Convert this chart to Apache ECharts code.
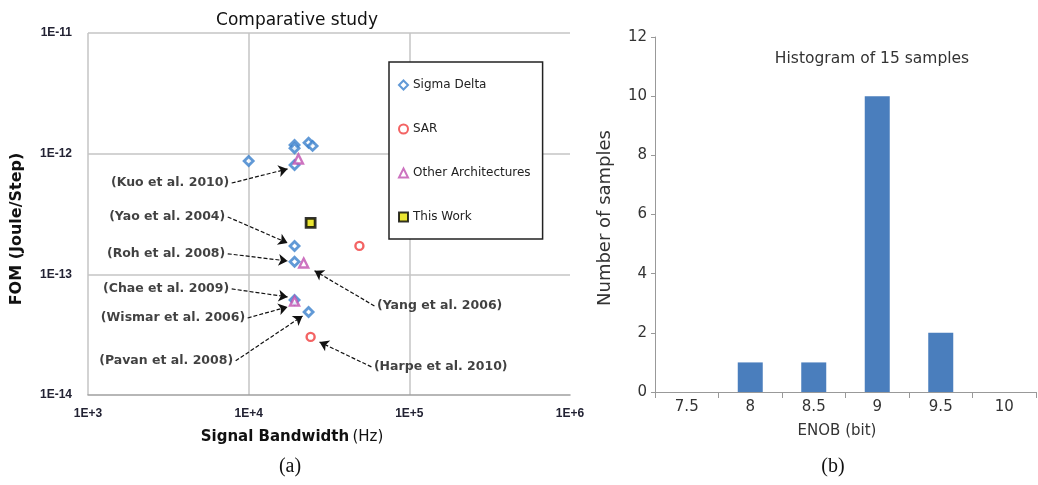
<!DOCTYPE html>
<html>
<head>
<meta charset="utf-8">
<script src="https://cdn.jsdelivr.net/npm/echarts@6/dist/echarts.min.js"></script>
<style>
html,body{margin:0;padding:0;background:#fff;}
#chart{width:1038px;height:485px;}
</style>
</head>
<body>
<div id="chart"></div>
<script>
// ---------- Panel (a): comparative study (log-log) ----------
const sigmaDelta = [[10000,8.7e-13],[19300,1.18e-12],[19300,1.11e-12],[23600,1.23e-12],[25000,1.16e-12],[19300,8.06e-13],[19300,1.72e-13],[19300,1.27e-13],[19300,6.14e-14],[23600,4.88e-14]];
const sar = [[48900,1.72e-13],[24300,3.03e-14]];
const otherArch = [[20400,9.04e-13],[22000,1.24e-13],[19300,6.0e-14]];
const thisWork = [[24300,2.67e-13]];

const annotNames = ['(Kuo et al. 2010)','(Yao et al. 2004)','(Roh et al. 2008)','(Chae et al. 2009)','(Wismar et al. 2006)','(Pavan et al. 2008)','(Yang et al. 2006)','(Harpe et al. 2010)'];
const annotFrom = [[7840,5.71e-13],[7410,2.99e-13],[7410,1.48e-13],[7840,7.57e-14],[9860,4.35e-14],[8300,1.92e-14],[60650,5.47e-14],[58070,1.71e-14]];
const annotTo = [[17460,7.47e-13],[17460,1.82e-13],[17460,1.29e-13],[17460,6.5e-14],[17460,5.37e-14],[21640,4.52e-14],[25700,1.07e-13],[27610,2.75e-14]];
const annotSide = ['left','left','left','left','left','left','right','right'];

// ---------- Panel (b): histogram ----------
const enobCategories = ['7.5','8','8.5','9','9.5','10'];
const enobCounts = [0,1,1,10,2,0];

const chart = echarts.init(document.getElementById('chart'), null, {renderer:'canvas'});

const font = 'Liberation Sans, Arial, sans-serif';
const wide = 'DejaVu Sans, Verdana, sans-serif';
const blue = '#3a7fcc', red = '#f03c3c', pink = '#c050b0';

const annotData = annotNames.map((n,i)=>({
  name:n,
  value:annotFrom[i],
  label:{position:annotSide[i], distance:2}
}));
const arrowData = annotFrom.map((f,i)=>[{coord:f},{coord:annotTo[i]}]);

const option = {
  animation:false,
  backgroundColor:'#fff',
  title:[
    {text:'Comparative study', left:292, top:7, textAlign:'center',
     textStyle:{fontFamily:wide, fontSize:17, fontWeight:'normal', color:'#111'}},
    {text:'Histogram of 15 samples', left:867, top:46, textAlign:'center',
     textStyle:{fontFamily:wide, fontSize:15.5, fontWeight:'normal', color:'#333'}},
    {text:'(a)', left:285, top:452, textAlign:'center',
     textStyle:{fontFamily:'Liberation Serif, DejaVu Serif, serif', fontSize:20, fontWeight:'normal', color:'#111'}},
    {text:'(b)', left:828, top:452, textAlign:'center',
     textStyle:{fontFamily:'Liberation Serif, DejaVu Serif, serif', fontSize:20, fontWeight:'normal', color:'#111'}}
  ],
  graphic:[
    {type:'text', x:17, y:229, rotation:Math.PI/2,
     style:{text:'FOM (Joule/Step)', fontFamily:wide, fontSize:16, fontWeight:'bold', fill:'#111',
            align:'center', verticalAlign:'middle'}},
    {type:'text', x:292, y:437,
     style:{text:'{b|Signal Bandwidth} {n|(Hz)}', align:'center', verticalAlign:'middle',
            rich:{b:{fontFamily:wide, fontSize:15, fontWeight:'bold', fill:'#111'},
                  n:{fontFamily:wide, fontSize:15, fontWeight:'normal', fill:'#111'}}}},
    {type:'text', x:605, y:218, rotation:Math.PI/2,
     style:{text:'Number of samples', fontFamily:wide, fontSize:18, fill:'#333',
            align:'center', verticalAlign:'middle'}},
    {type:'text', x:837, y:431,
     style:{text:'ENOB (bit)', fontFamily:wide, fontSize:15, fill:'#333',
            align:'center', verticalAlign:'middle'}}
  ],
  legend:{
    show:true,
    data:['Sigma Delta','SAR','Other Architectures','This Work'],
    orient:'vertical',
    left:389, top:62,
    padding:[17,12,16,9],
    itemGap:32,
    itemWidth:9, itemHeight:9,
    borderColor:'#222', borderWidth:1.5,
    backgroundColor:'#fff',
    textStyle:{fontFamily:wide, fontSize:12, color:'#222'},
    selectedMode:false
  },
  grid:[
    {left:88, top:33, width:482, height:362},
    {left:655, top:37, width:381, height:355}
  ],
  xAxis:[
    {
      gridIndex:0, type:'log', logBase:10, min:1000, max:1000000,
      axisLine:{show:true, lineStyle:{color:'#a0a0a0', width:1.5}},
      axisTick:{show:false},
      splitLine:{show:true, showMinLine:false, showMaxLine:false, lineStyle:{color:'#c4c4c4', width:1.5}},
      axisLabel:{fontFamily:font, fontSize:12, fontWeight:'bold', color:'#222233', margin:13,
        formatter:function(v){return '1E+' + Math.round(Math.log10(v));}}
    },
    {
      gridIndex:1, type:'category', data:enobCategories,
      axisLine:{show:true, lineStyle:{color:'#999', width:1}},
      axisTick:{show:true, length:6, lineStyle:{color:'#999'}},
      axisLabel:{fontFamily:wide, fontSize:15, color:'#333', margin:8}
    }
  ],
  yAxis:[
    {
      gridIndex:0, type:'log', logBase:10, min:1e-14, max:1e-11,
      axisLine:{show:false},
      axisTick:{show:false},
      splitLine:{show:true, showMinLine:false, lineStyle:{color:'#c4c4c4', width:1.5}},
      axisLabel:{fontFamily:font, fontSize:12, fontWeight:'bold', color:'#222233', margin:16,
        formatter:function(v){return '1E-' + Math.abs(Math.round(Math.log10(v)));}}
    },
    {
      gridIndex:1, type:'value', min:0, max:12, interval:2,
      axisLine:{show:true, lineStyle:{color:'#999', width:1}},
      axisTick:{show:true, length:4, lineStyle:{color:'#999'}},
      splitLine:{show:false},
      axisLabel:{fontFamily:wide, fontSize:15, color:'#333', margin:8}
    }
  ],
  series:[
    {
      name:'annotations', type:'scatter', xAxisIndex:0, yAxisIndex:0,
      data:annotData, symbolSize:1, itemStyle:{color:'rgba(0,0,0,0)'},
      label:{show:true, formatter:'{b}', fontFamily:wide, fontSize:12.5, fontWeight:'bold', color:'#111'},
      markLine:{
        silent:true, symbol:['none','arrow'], symbolSize:9,
        lineStyle:{color:'#111', type:[4,2], width:1.2},
        label:{show:false},
        data:arrowData
      },
      z:1
    },
    {
      name:'Sigma Delta', type:'scatter', xAxisIndex:0, yAxisIndex:0,
      data:sigmaDelta, symbol:'diamond', symbolSize:9,
      itemStyle:{color:'#fff', borderColor:blue, borderWidth:2.8}, z:3
    },
    {
      name:'SAR', type:'scatter', xAxisIndex:0, yAxisIndex:0,
      data:sar, symbol:'circle', symbolSize:8,
      itemStyle:{color:'#fff', borderColor:red, borderWidth:2.4}, z:3
    },
    {
      name:'Other Architectures', type:'scatter', xAxisIndex:0, yAxisIndex:0,
      data:otherArch, symbol:'triangle', symbolSize:9,
      itemStyle:{color:'#fff', borderColor:pink, borderWidth:2.4}, z:4
    },
    {
      name:'This Work', type:'scatter', xAxisIndex:0, yAxisIndex:0,
      data:thisWork, symbol:'rect', symbolSize:9,
      itemStyle:{color:'#e6e000', borderColor:'#000', borderWidth:2.8}, z:3
    },
    {
      name:'ENOB', type:'bar', xAxisIndex:1, yAxisIndex:1,
      data:enobCounts, barWidth:25,
      itemStyle:{color:'#4a7ebd', borderWidth:0}
    }
  ]
};
chart.setOption(option);
</script>
</body>
</html>
